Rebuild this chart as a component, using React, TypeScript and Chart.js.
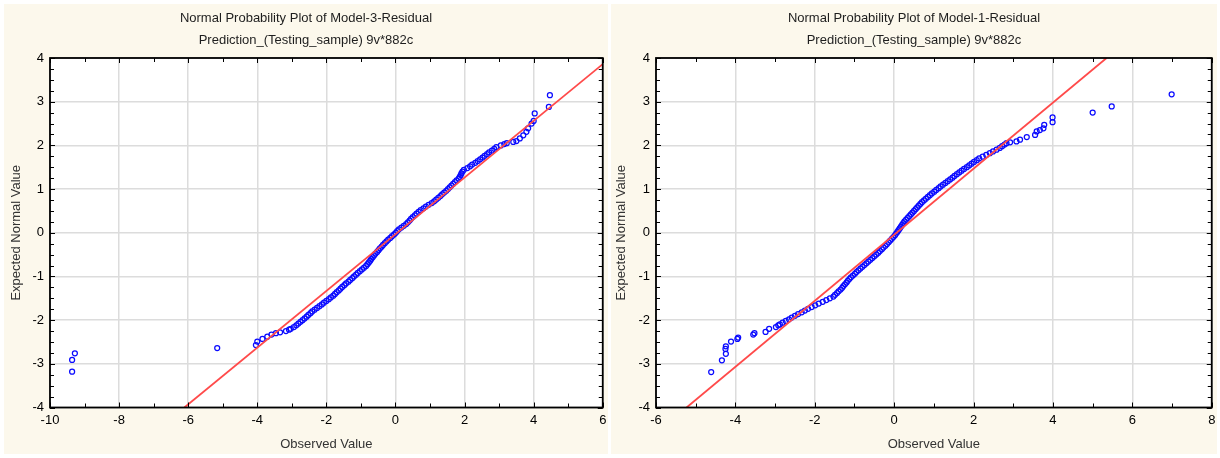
import React, { useEffect, useRef } from "react";
import { Chart, registerables } from "chart.js";

Chart.register(...registerables);

// ---------- text ----------
const leftTitle = "Normal Probability Plot of Model-3-Residual";
const rightTitle = "Normal Probability Plot of Model-1-Residual";
const subTitle = "Prediction_(Testing_sample) 9v*882c";
const xAxisTitle = "Observed Value";
const yAxisTitle = "Expected Normal Value";

// ---------- axes ----------
const leftXRange = [-10, 6];
const rightXRange = [-6, 8];
const yRange = [-4, 4];
const xMajorStep = 2;
const xMinorStep = 1;
const yMajorStep = 1;
const yMinorStep = 0.25;

// ---------- Model-3 (left) ----------
const leftObserved = [
  -9.36, -9.36, -9.28, -5.16, -4.04, -4.0, -3.85, -3.71, -3.59, -3.46, -3.34, -3.17, -3.08,
  -3.03, -2.94, -2.87, -2.81, -2.75, -2.69, -2.63, -2.57, -2.52, -2.46, -2.41, -2.34, -2.27, -2.2,
  -2.13, -2.07, -2.0, -1.93, -1.87, -1.8, -1.75, -1.7, -1.64, -1.59, -1.54, -1.48, -1.43, -1.36,
  -1.31, -1.25, -1.2, -1.14, -1.09, -1.03, -0.97, -0.91, -0.85, -0.81, -0.77, -0.73, -0.7, -0.66,
  -0.62, -0.58, -0.53, -0.49, -0.45, -0.4, -0.36, -0.31, -0.26, -0.21, -0.15, -0.1, -0.04, 0.01,
  0.05, 0.1, 0.17, 0.24, 0.31, 0.36, 0.41, 0.45, 0.5, 0.56, 0.61, 0.67, 0.73, 0.81, 0.88, 0.96,
  1.05, 1.12, 1.18, 1.24, 1.3, 1.35, 1.41, 1.47, 1.52, 1.57, 1.62, 1.67, 1.72, 1.77, 1.83, 1.86,
  1.89, 1.91, 1.94, 1.98, 2.08, 2.16, 2.22, 2.31, 2.38, 2.45, 2.52, 2.58, 2.65, 2.71, 2.79, 2.86,
  2.92, 3.05, 3.15, 3.22,
  3.41, 3.5, 3.6, 3.7, 3.79, 3.84, 3.94, 4.0, 4.03, 4.44, 4.47,
];
const leftExpected = [
  -3.18, -2.91, -2.76, -2.64, -2.57, -2.49, -2.43, -2.38, -2.33, -2.3, -2.28, -2.25, -2.22,
  -2.2, -2.16, -2.12, -2.08, -2.04, -2.0, -1.96, -1.92, -1.88, -1.84, -1.8, -1.76, -1.72, -1.68,
  -1.64, -1.6, -1.56, -1.52, -1.48, -1.44, -1.4, -1.36, -1.32, -1.28, -1.24, -1.2, -1.16, -1.12,
  -1.08, -1.04, -1.0, -0.96, -0.92, -0.88, -0.84, -0.8, -0.76, -0.72, -0.68, -0.64, -0.6, -0.56,
  -0.52, -0.48, -0.44, -0.4, -0.36, -0.32, -0.28, -0.24, -0.2, -0.16, -0.12, -0.08, -0.04, 0.0,
  0.04, 0.08, 0.12, 0.16, 0.2, 0.24, 0.28, 0.32, 0.36, 0.4, 0.44, 0.48, 0.52, 0.56, 0.6, 0.64,
  0.68, 0.72, 0.76, 0.8, 0.84, 0.88, 0.92, 0.96, 1.0, 1.04, 1.08, 1.12, 1.16, 1.2, 1.24, 1.28,
  1.32, 1.36, 1.4, 1.44, 1.48, 1.52, 1.56, 1.6, 1.64, 1.68, 1.72, 1.76, 1.8, 1.84, 1.88, 1.92,
  1.96, 2.0, 2.03, 2.05,
  2.08, 2.1, 2.16, 2.23, 2.31, 2.39, 2.5, 2.56, 2.73, 2.88, 3.15,
];
const leftLineX = [-6.11, 6.0];
const leftLineY = [-4.0, 3.86];

// ---------- Model-1 (right) ----------
const rightObserved = [
  -4.61, -4.34, -4.24, -4.25, -4.24, -4.11, -3.95, -3.93, -3.55, -3.52, -3.24, -3.15, -2.98, -2.92,
  -2.88, -2.81, -2.73, -2.65, -2.58, -2.5, -2.42, -2.33, -2.25, -2.17, -2.08, -1.99, -1.9, -1.8,
  -1.71, -1.62, -1.53, -1.49, -1.44, -1.4, -1.35, -1.31, -1.28, -1.24, -1.2, -1.17, -1.13, -1.09,
  -1.04, -0.99, -0.95, -0.9, -0.85, -0.8, -0.75, -0.7, -0.65, -0.6, -0.55, -0.5, -0.45, -0.4,
  -0.36, -0.31, -0.27, -0.22, -0.18, -0.14, -0.1, -0.06, -0.02, 0.02, 0.05, 0.08, 0.11, 0.14,
  0.17, 0.2, 0.23, 0.26, 0.3, 0.34, 0.38, 0.42, 0.46, 0.5, 0.54, 0.58, 0.62, 0.66, 0.7, 0.75,
  0.8, 0.85, 0.9, 0.95, 1.01, 1.06, 1.12, 1.17, 1.23, 1.29, 1.35, 1.41, 1.47, 1.52, 1.58, 1.64,
  1.7, 1.76, 1.83, 1.89, 1.95, 2.01, 2.08, 2.14, 2.23, 2.32, 2.41, 2.49, 2.58, 2.66, 2.72, 2.78,
  2.83,
  2.92, 3.08, 3.17, 3.34, 3.55, 3.59, 3.67, 3.76, 3.78, 3.99, 3.99, 5.0, 5.48, 6.99,
];
const rightExpected = [
  -3.19, -2.92, -2.77, -2.66, -2.6, -2.49, -2.43, -2.4, -2.33, -2.3, -2.27, -2.2, -2.16, -2.12,
  -2.1, -2.06, -2.02, -1.98, -1.94, -1.9, -1.86, -1.82, -1.78, -1.74, -1.7, -1.66, -1.62, -1.58,
  -1.54, -1.5, -1.46, -1.42, -1.38, -1.34, -1.3, -1.26, -1.22, -1.18, -1.14, -1.1, -1.06, -1.02,
  -0.98, -0.94, -0.9, -0.86, -0.82, -0.78, -0.74, -0.7, -0.66, -0.62, -0.58, -0.54, -0.5, -0.46,
  -0.42, -0.38, -0.34, -0.3, -0.26, -0.22, -0.18, -0.14, -0.1, -0.06, -0.02, 0.02, 0.06, 0.1,
  0.14, 0.18, 0.22, 0.26, 0.3, 0.34, 0.38, 0.42, 0.46, 0.5, 0.54, 0.58, 0.62, 0.66, 0.7, 0.74,
  0.78, 0.82, 0.86, 0.9, 0.94, 0.98, 1.02, 1.06, 1.1, 1.14, 1.18, 1.22, 1.26, 1.3, 1.34, 1.38,
  1.42, 1.46, 1.5, 1.54, 1.58, 1.62, 1.66, 1.7, 1.74, 1.78, 1.82, 1.86, 1.9, 1.94, 1.98, 2.02,
  2.05,
  2.07, 2.09, 2.13, 2.19, 2.24, 2.32, 2.35, 2.39, 2.47, 2.53, 2.64, 2.75, 2.89, 3.17,
];
const rightLineX = [-5.23, 5.35];
const rightLineY = [-4.0, 4.0];

// ---------- style ----------
const FONT = '"Liberation Sans", Arial, sans-serif';
const PANEL_BG = "#fcf8ec";
const GRID = "#dcdcdc";
const POINT_BLUE = "#0a0aff";
const LINE_RED = "#ff4a4a";

type Geom = {
  x: number; y: number; w: number; h: number;
  left: number; right: number; top: number; bottom: number;
  yTitlePad: number;
};

function makePlugin(t1: string, t2: string) {
  return {
    id: "frameAndTitle",
    beforeDraw(chart: any) {
      const { ctx, chartArea: a } = chart;
      ctx.save();
      ctx.fillStyle = "#ffffff";
      ctx.fillRect(a.left, a.top, a.right - a.left, a.bottom - a.top);
      ctx.restore();
    },
    afterDraw(chart: any) {
      const { ctx, chartArea: a } = chart;
      const xs = chart.scales.x;
      const ys = chart.scales.y;
      ctx.save();
      ctx.strokeStyle = "#000";
      ctx.lineWidth = 1;
      ctx.beginPath();
      const nx = Math.round((xs.max - xs.min) / xMinorStep);
      for (let i = 0; i <= nx; i++) {
        const v = xs.min + i * xMinorStep;
        const px = Math.round(xs.getPixelForValue(v)) + 0.5;
        const major = Math.abs(v / xMajorStep - Math.round(v / xMajorStep)) < 1e-6;
        const len = major ? 5 : 4;
        ctx.moveTo(px, a.bottom);
        ctx.lineTo(px, a.bottom - len);
        ctx.moveTo(px, a.top);
        ctx.lineTo(px, a.top + len);
      }
      const ny = Math.round((ys.max - ys.min) / yMinorStep);
      for (let i = 0; i <= ny; i++) {
        const v = ys.min + i * yMinorStep;
        const py = Math.round(ys.getPixelForValue(v)) + 0.5;
        const major = Math.abs(v / yMajorStep - Math.round(v / yMajorStep)) < 1e-6;
        const len = major ? 5 : 4;
        ctx.moveTo(a.left, py);
        ctx.lineTo(a.left + len, py);
        ctx.moveTo(a.right, py);
        ctx.lineTo(a.right - len, py);
      }
      ctx.stroke();
      ctx.lineWidth = 1.8;
      ctx.strokeRect(a.left, a.top, a.right - a.left, a.bottom - a.top);
      ctx.fillStyle = "#1e1e1e";
      ctx.font = `13px ${FONT}`;
      ctx.textAlign = "center";
      ctx.textBaseline = "middle";
      ctx.fillText(t1, chart.width / 2, 14);
      ctx.fillText(t2, chart.width / 2, 36);
      ctx.restore();
    },
  };
}

function Panel(props: {
  g: Geom; title: string; xs: number[]; ys: number[];
  lx: number[]; ly: number[]; xRange: number[];
}) {
  const { g, title, xs, ys, lx, ly, xRange } = props;
  const ref = useRef<HTMLCanvasElement | null>(null);
  useEffect(() => {
    const canvas = ref.current;
    if (!canvas) return;
    const pts = xs.map((x, i) => ({ x, y: ys[i] }));
    const line = lx.map((x, i) => ({ x, y: ly[i] }));
    const chart = new Chart(canvas, {
      type: "scatter",
      data: {
        datasets: [
          {
            data: line,
            showLine: true,
            borderColor: LINE_RED,
            borderWidth: 1.8,
            pointRadius: 0,
            fill: false,
          } as any,
          {
            data: pts,
            pointRadius: 2.5,
            pointBorderWidth: 1.25,
            pointBorderColor: POINT_BLUE,
            pointBackgroundColor: "rgba(0,0,0,0)",
            borderColor: POINT_BLUE,
            backgroundColor: "rgba(0,0,0,0)",
          } as any,
        ],
      },
      options: {
        responsive: false,
        animation: false,
        events: [],
        layout: { padding: { top: g.top, left: 0, right: g.w - g.right, bottom: 0 } },
        plugins: {
          legend: { display: false },
          tooltip: { enabled: false },
          title: { display: false },
        },
        scales: {
          x: {
            type: "linear",
            min: xRange[0],
            max: xRange[1],
            ticks: {
              stepSize: xMajorStep,
              color: "#000",
              font: { family: FONT, size: 13 },
              padding: 5,
              maxRotation: 0,
              autoSkip: false,
            },
            grid: { color: GRID, lineWidth: 1.5, drawTicks: false },
            border: { display: false },
            title: {
              display: true,
              text: xAxisTitle,
              color: "#333",
              font: { family: FONT, size: 13 },
              padding: { top: 0, bottom: 2 },
            },
            afterFit: (s: any) => {
              s.height = g.h - g.bottom;
              s.paddingLeft = 0;
              s.paddingRight = 0;
            },
          },
          y: {
            type: "linear",
            min: yRange[0],
            max: yRange[1],
            ticks: {
              stepSize: yMajorStep,
              color: "#000",
              font: { family: FONT, size: 13 },
              padding: 6,
            },
            grid: { color: GRID, lineWidth: 1.5, drawTicks: false },
            border: { display: false },
            title: {
              display: true,
              text: yAxisTitle,
              color: "#333",
              font: { family: FONT, size: 13 },
              padding: { top: g.yTitlePad, bottom: 0 },
            },
            afterFit: (s: any) => {
              s.width = g.left;
              s.paddingTop = 0;
              s.paddingBottom = 0;
            },
          },
        },
      } as any,
      plugins: [makePlugin(title, subTitle)],
    });
    return () => chart.destroy();
  }, []);
  return (
    <canvas
      ref={ref}
      width={g.w}
      height={g.h}
      style={{
        position: "absolute",
        left: g.x,
        top: g.y,
        width: g.w,
        height: g.h,
        background: PANEL_BG,
      }}
    />
  );
}

const leftGeom: Geom = { x: 4, y: 4, w: 604, h: 450, left: 46, right: 599, top: 54, bottom: 403.5, yTitlePad: 5 };
const rightGeom: Geom = { x: 611, y: 4, w: 606, h: 450, left: 45, right: 601.5, top: 54, bottom: 403.5, yTitlePad: 3 };

export default function App() {
  return (
    <div
      style={{
        position: "absolute",
        left: 0,
        top: 0,
        width: 1220,
        height: 458,
        background: "#ffffff",
        overflow: "hidden",
      }}
    >
      <Panel g={leftGeom} title={leftTitle} xs={leftObserved} ys={leftExpected} lx={leftLineX} ly={leftLineY} xRange={leftXRange} />
      <Panel g={rightGeom} title={rightTitle} xs={rightObserved} ys={rightExpected} lx={rightLineX} ly={rightLineY} xRange={rightXRange} />
    </div>
  );
}
